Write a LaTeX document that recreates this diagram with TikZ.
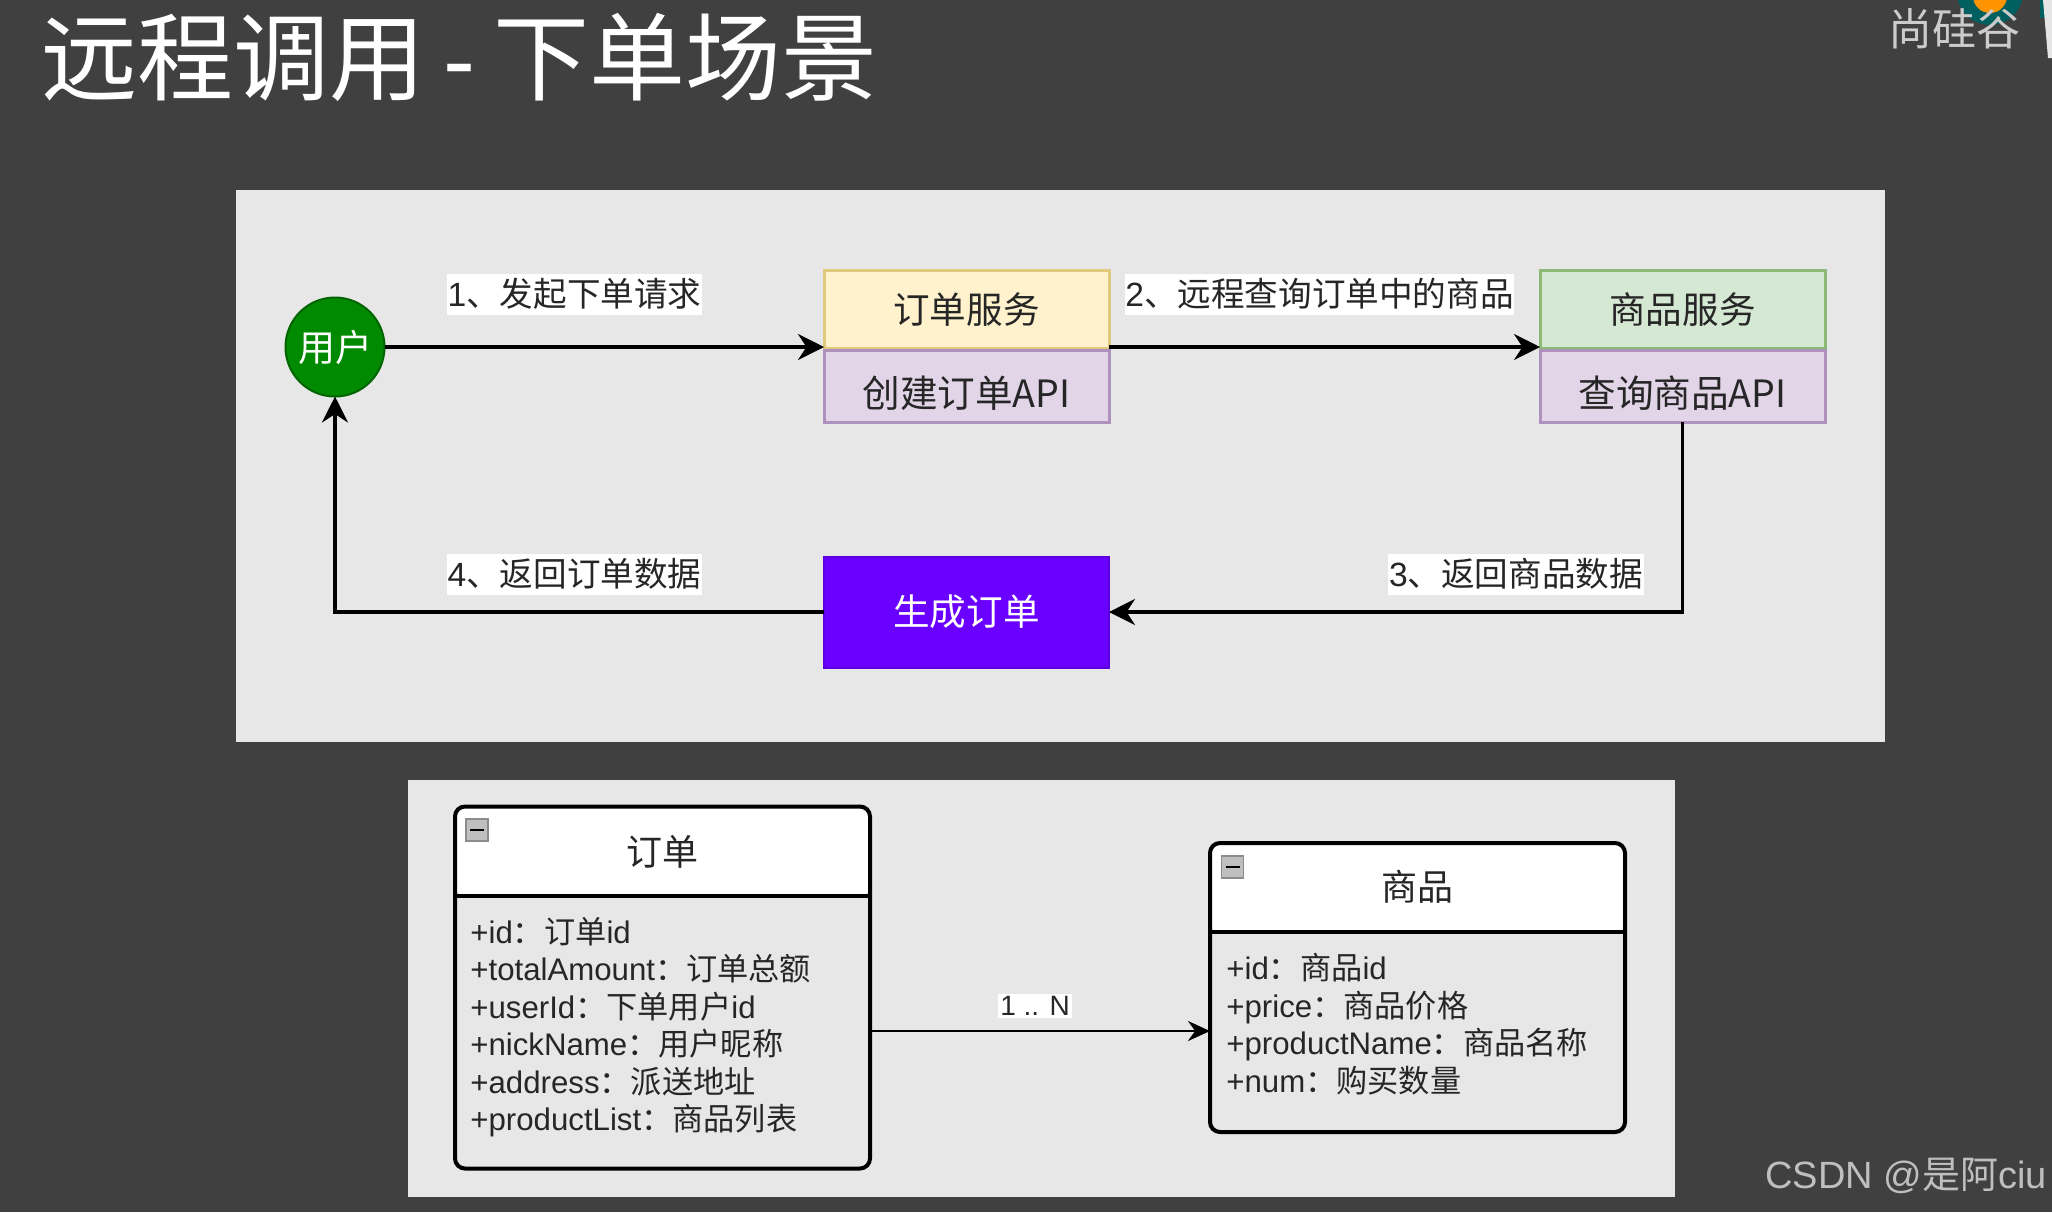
\documentclass[tikz,border=0pt]{standalone}
\usepackage{fontspec}
\setmainfont{Liberation Sans}
\newfontfamily\cjk{Noto Sans CJK SC}
\usetikzlibrary{arrows.meta,calc}
\newcommand{\zh}[1]{{\cjk #1}}
\newcommand{\lowered}[1]{\raisebox{-10.5pt}[0pt][0pt]{#1}}
\definecolor{bgdark}{HTML}{404040}
\definecolor{panelgrey}{HTML}{E7E7E7}
\tikzset{
  x=0.5pt,y=-0.5pt,
  svcbox/.style={draw,line width=1.5pt,minimum width=142.5pt,inner sep=0,outer sep=0,font=\cjk\fontsize{18.3}{22}\selectfont,text=black!85},
  yellowbox/.style={svcbox,fill={rgb,255:red,255;green,242;blue,204},draw={rgb,255:red,224;green,200;blue,125},minimum height=39pt},
  greenbox/.style={svcbox,fill={rgb,255:red,213;green,232;blue,212},draw={rgb,255:red,140;green,185;blue,115},minimum height=39pt},
  purplebox/.style={svcbox,fill={rgb,255:red,225;green,213;blue,231},draw={rgb,255:red,175;green,145;blue,190},minimum height=36pt,font=\cjk\fontsize{18.8}{22}\selectfont},
  genbox/.style={svcbox,fill={rgb,255:red,106;green,0;blue,255},draw={rgb,255:red,90;green,0;blue,220},line width=1pt,minimum height=55.5pt,text=white},
  userdot/.style={circle,fill={rgb,255:red,0;green,138;blue,0},draw={rgb,255:red,0;green,100;blue,0},line width=1pt,minimum size=49.5pt,inner sep=0,outer sep=0,text=white,font=\cjk\fontsize{18.5}{20}\selectfont},
  flow/.style={draw=black,line width=1.6pt,-{Stealth[length=13pt,width=13pt]}},
  steplabel/.style={fill=white,inner sep=0,outer sep=0,minimum height=20.5pt,text=black!85,font=\fontsize{16.8}{20}\selectfont},
  classbox/.style={draw=black,line width=2pt,rounded corners=5pt,fill=panelgrey,minimum width=207.5pt,inner sep=0,outer sep=0},
  classline/.style={draw=black,line width=2pt},
  classhead/.style={text=black!85,font=\cjk\fontsize{18}{20}\selectfont,inner sep=0},
  classattrs/.style={align=left,anchor=north west,inner sep=0,text=black!85,font=\fontsize{15.6}{18.72}\selectfont},
  foldbox/.style={fill=black!25,draw=black!45,line width=0.6pt,minimum size=11pt,inner sep=0},
  umlflow/.style={draw=black,line width=1.3pt,-{Stealth[length=11pt,width=10pt]}},
}
\begin{document}
\begin{tikzpicture}
\useasboundingbox (0,0) rectangle (2052,1212);
\fill[bgdark] (0,0) rectangle (2052,1212);
% logo fragments top right
\begin{scope}
\clip (1900,0) rectangle (2052,80);
\fill[teal!75!black] (1990,-8) circle[radius=33];
\fill[orange!85!yellow] (1990,-4) circle[radius=17];
\end{scope}
\fill[teal!75!black] (2040,0) rectangle (2052,18);
\fill[white!90!black] (2043,0) -- (2052,0) -- (2052,58) -- (2048,58) -- cycle;
% title and marks
\node[anchor=west,inner sep=0,text=white,font=\fontsize{48}{52}\selectfont] (title) at (41,57) {\zh{远程调用}\hspace{9pt}-\hspace{9pt}\zh{下单场景}};
\node[anchor=west,inner sep=0,text=black!20,font=\cjk\fontsize{22}{24}\selectfont] (brand) at (1888,29) {尚硅谷};
\node[anchor=east,inner sep=0,text=black!25,font=\fontsize{19}{24}\selectfont] (mark) at (2047,1176) {CSDN @\zh{是阿}ciu};
% panels
\fill[panelgrey] (236,190) rectangle (1885,742);
\fill[panelgrey] (408,780) rectangle (1675,1197);
% services
\node[userdot] (user) at (335,347) {用户};
\node[yellowbox] (orderSvc) at (966.5,309.5) {订单服务};
\node[purplebox] (orderApi) at (966.5,386) {\lowered{\zh{创建订单}API}};
\node[greenbox] (productSvc) at (1682.5,309.5) {商品服务};
\node[purplebox] (productApi) at (1682.5,386) {\lowered{\zh{查询商品}API}};
\node[genbox] (orderGen) at (966.5,612) {生成订单};
% flows
\draw[flow] (user.east) -- (user.east -| orderSvc.west);
\draw[flow] (user.east -| orderSvc.east) -- (user.east -| productSvc.west);
\draw[flow] (productApi.south) |- (orderGen.east);
\draw[flow] (orderGen.west) -| (user.south);
% flow labels
\node[steplabel,minimum width=127.5pt] (lab1) at (574.5,294) {1\zh{、发起下单请求}};
\node[steplabel,minimum width=194.5pt] (lab2) at (1319.5,294) {2\zh{、远程查询订单中的商品}};
\node[steplabel,minimum width=128pt] (lab3) at (1516,574) {3\zh{、返回商品数据}};
\node[steplabel,minimum width=127.5pt] (lab4) at (574.5,574) {4\zh{、返回订单数据}};
% order class
\node[classbox,minimum height=181pt,path picture={\fill[white] (path picture bounding box.north west) rectangle ([yshift=-44.5pt]path picture bounding box.north east);}] (orderClass) at (662.5,987.5) {};
\draw[classline] ([yshift=-44.5pt]orderClass.north west) -- ([yshift=-44.5pt]orderClass.north east);
\node[classhead] (orderHead) at (662.5,852) {订单};
\node[foldbox] (orderFold) at (477,830) {};
\draw[line width=0.9pt] (orderFold.center) ++(-3.5pt,0) -- ++(7pt,0);
\node[classattrs] (orderAttrs) at (470,917) {+id\zh{：订单}id\\+totalAmount\zh{：订单总额}\\+userId\zh{：下单用户}id\\+nickName\zh{：用户昵称}\\+address\zh{：派送地址}\\+productList\zh{：商品列表}};
% product class
\node[classbox,minimum height=144.5pt,path picture={\fill[white] (path picture bounding box.north west) rectangle ([yshift=-44.5pt]path picture bounding box.north east);}] (productClass) at (1417.5,987.5) {};
\draw[classline] ([yshift=-44.5pt]productClass.north west) -- ([yshift=-44.5pt]productClass.north east);
\node[classhead] (productHead) at (1417.5,887) {商品};
\node[foldbox] (productFold) at (1232.5,867) {};
\draw[line width=0.9pt] (productFold.center) ++(-3.5pt,0) -- ++(7pt,0);
\node[classattrs] (productAttrs) at (1226,953) {+id\zh{：商品}id\\+price\zh{：商品价格}\\+productName\zh{：商品名称}\\+num\zh{：购买数量}};
% relation
\draw[umlflow] ([yshift=-21.75pt]orderClass.east) -- ([yshift=-21.75pt]productClass.west);
\node[fill=white,inner sep=1pt,text=black!85,font=\fontsize{14}{18}\selectfont] (relLabel) at (1035,1006) {1 .. N};
\end{tikzpicture}
\end{document}
